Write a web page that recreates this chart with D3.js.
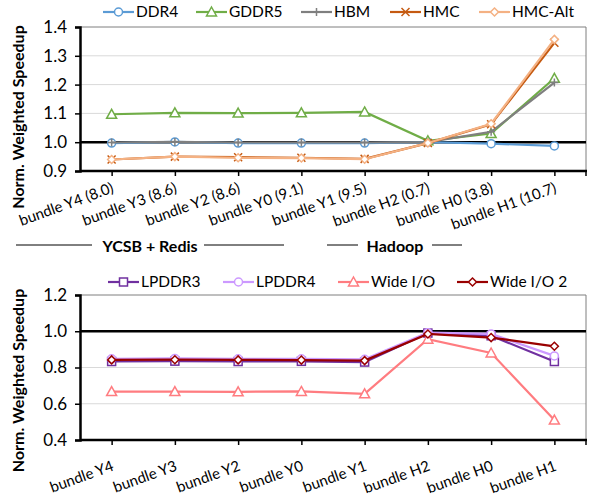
<!DOCTYPE html>
<html>
<head>
<meta charset="utf-8">
<script src="https://cdn.jsdelivr.net/npm/d3@7"></script>
<style>
  html, body { margin: 0; padding: 0; background: #fff; }
  svg { display: block; font-family: "Lato", "Open Sans", sans-serif; }
</style>
</head>
<body>
<svg id="chart" width="590" height="495"></svg>
<script>
// Workload bundles (top chart carries MPKI in parentheses)
const topCategories = ["bundle Y4 (8.0)", "bundle Y3 (8.6)", "bundle Y2 (8.6)", "bundle Y0 (9.1)",
  "bundle Y1 (9.5)", "bundle H2 (0.7)", "bundle H0 (3.8)", "bundle H1 (10.7)"];
const bottomCategories = ["bundle Y4", "bundle Y3", "bundle Y2", "bundle Y0",
  "bundle Y1", "bundle H2", "bundle H0", "bundle H1"];

// Top chart series
const ddr4   = [0.997, 1.001, 0.997, 0.997, 0.997, 1.000, 0.995, 0.987];
const gddr5  = [1.097, 1.102, 1.101, 1.102, 1.105, 1.005, 1.030, 1.222];
const hbm    = [0.999, 1.001, 0.999, 0.999, 0.999, 1.000, 1.036, 1.207];
const hmc    = [0.940, 0.950, 0.948, 0.946, 0.942, 0.997, 1.062, 1.345];
const hmcAlt = [0.940, 0.950, 0.946, 0.945, 0.941, 0.997, 1.064, 1.357];

// Bottom chart series
const lpddr3  = [0.833, 0.835, 0.833, 0.834, 0.830, 0.990, 0.975, 0.833];
const lpddr4  = [0.848, 0.850, 0.848, 0.848, 0.845, 0.992, 0.985, 0.864];
const wideIO  = [0.667, 0.667, 0.666, 0.668, 0.655, 0.956, 0.880, 0.510];
const wideIO2 = [0.842, 0.843, 0.842, 0.841, 0.838, 0.985, 0.965, 0.917];

const topTicks = [0.9, 1.0, 1.1, 1.2, 1.3, 1.4];
const bottomTicks = [0.4, 0.6, 0.8, 1.0, 1.2];

const topSeries = [
  { name: "DDR4",    values: ddr4,   color: "#5B9BD5", marker: "circle" },
  { name: "GDDR5",   values: gddr5,  color: "#70AD47", marker: "triangle" },
  { name: "HBM",     values: hbm,    color: "#7F7F7F", marker: "plus" },
  { name: "HMC",     values: hmc,    color: "#C55A11", marker: "cross" },
  { name: "HMC-Alt", values: hmcAlt, color: "#F4B183", marker: "diamond" }
];
const bottomSeries = [
  { name: "LPDDR3",     values: lpddr3,  color: "#7030A0", marker: "square" },
  { name: "LPDDR4",     values: lpddr4,  color: "#CC99FF", marker: "circle" },
  { name: "Wide I/O",   values: wideIO,  color: "#FF7C80", marker: "triangle" },
  { name: "Wide I/O 2", values: wideIO2, color: "#990000", marker: "diamond" }
];

const svg = d3.select("#chart");

function drawMarker(g, type, x, y, color) {
  const s = 4;
  if (type === "circle") {
    g.append("circle").attr("cx", x).attr("cy", y).attr("r", s)
      .attr("fill", "#fff").attr("stroke", color).attr("stroke-width", 1.5);
  } else if (type === "square") {
    g.append("rect").attr("x", x - s).attr("y", y - s).attr("width", 2 * s).attr("height", 2 * s)
      .attr("fill", "#fff").attr("stroke", color).attr("stroke-width", 1.5);
  } else if (type === "triangle") {
    g.append("path").attr("d", `M${x},${y - s - 1}L${x + s + 1},${y + s}L${x - s - 1},${y + s}Z`)
      .attr("fill", "#fff").attr("stroke", color).attr("stroke-width", 1.5);
  } else if (type === "diamond") {
    g.append("path").attr("d", `M${x},${y - s}L${x + s},${y}L${x},${y + s}L${x - s},${y}Z`)
      .attr("fill", "#fff").attr("stroke", color).attr("stroke-width", 1.5);
  } else if (type === "plus") {
    g.append("path").attr("d", `M${x - s},${y}H${x + s}M${x},${y - s}V${y + s}`)
      .attr("fill", "none").attr("stroke", color).attr("stroke-width", 1.5);
  } else if (type === "cross") {
    g.append("path").attr("d", `M${x - s},${y - s}L${x + s},${y + s}M${x - s},${y + s}L${x + s},${y - s}`)
      .attr("fill", "none").attr("stroke", color).attr("stroke-width", 1.5);
  }
}

function drawPanel(cfg) {
  const { categories, series, ticks, domain, left, right, top, bottom, legend, labelDy } = cfg;
  const x = d3.scalePoint().domain(categories).range([left, right]).padding(0.5);
  const y = d3.scaleLinear().domain(domain).range([bottom, top]);
  const g = svg.append("g");

  // gridlines
  g.append("g").selectAll("line").data(ticks.filter(t => t !== 1.0 && t !== domain[0] && t !== domain[1]))
    .join("line")
    .attr("x1", left).attr("x2", right)
    .attr("y1", d => y(d)).attr("y2", d => y(d))
    .attr("stroke", "#D9D9D9").attr("stroke-width", 1);

  // plot frame (top and right)
  g.append("path").attr("d", `M${left},${top}H${right}V${bottom}`)
    .attr("fill", "none").attr("stroke", "#7F7F7F").attr("stroke-width", 1);

  // y axis
  const yAxis = d3.axisLeft(y).tickValues(ticks).tickFormat(d3.format(".1f")).tickSize(5).tickPadding(8);
  const ya = g.append("g").attr("transform", `translate(${left},0)`).call(yAxis);
  ya.select(".domain").attr("stroke", "#000").attr("stroke-width", 2.5);
  ya.selectAll(".tick line").attr("stroke", "#000").attr("stroke-width", 1.5);
  ya.selectAll(".tick text").attr("font-size", 17).attr("fill", "#000")
    .attr("font-family", "Lato, 'Open Sans', sans-serif");

  // reference line at 1.0
  g.append("line").attr("x1", left).attr("x2", right)
    .attr("y1", y(1.0)).attr("y2", y(1.0))
    .attr("stroke", "#000").attr("stroke-width", 2.5);

  // x axis
  const xAxis = d3.axisBottom(x).tickSize(5).tickSizeOuter(0).tickFormat("");
  const xa = g.append("g").attr("transform", `translate(0,${bottom})`).call(xAxis);
  xa.select(".domain").attr("stroke", "#000").attr("stroke-width", 2.5)
    .attr("d", `M${left},0H${right + 1}`);
  xa.selectAll(".tick line").attr("stroke", "#000").attr("stroke-width", 1.5);
  xa.append("line").attr("x1", right).attr("x2", right).attr("y1", 0).attr("y2", 5)
    .attr("stroke", "#000").attr("stroke-width", 1.5);

  // rotated category labels
  g.append("g").selectAll("text").data(categories).join("text")
    .attr("transform", d => `translate(${x(d) + 3},${bottom + labelDy}) rotate(-20)`)
    .attr("text-anchor", "end")
    .attr("font-size", 15)
    .attr("fill", "#000")
    .text(d => d);

  // y axis title
  g.append("text")
    .attr("transform", `translate(24,${(top + bottom) / 2 + cfg.titleShift}) rotate(-90)`)
    .attr("text-anchor", "middle")
    .attr("font-size", 16).attr("font-weight", "bold")
    .text("Norm. Weighted Speedup");

  // series lines and markers
  const line = d3.line().x((d, i) => x(categories[i])).y(d => y(d));
  series.forEach(s => {
    const sg = g.append("g");
    sg.append("path").attr("d", line(s.values))
      .attr("fill", "none").attr("stroke", s.color).attr("stroke-width", 2.2);
    s.values.forEach((v, i) => drawMarker(sg, s.marker, x(categories[i]), y(v), s.color));
  });

  // legend
  const lg = g.append("g");
  series.forEach((s, i) => {
    const lx = legend.xs[i], ly = legend.y;
    lg.append("line").attr("x1", lx).attr("x2", lx + 31).attr("y1", ly).attr("y2", ly)
      .attr("stroke", s.color).attr("stroke-width", 2.2);
    drawMarker(lg, s.marker, lx + 15.5, ly, s.color);
    lg.append("text").attr("x", lx + 33).attr("y", ly).attr("dy", "0.35em")
      .attr("font-size", 15.5).attr("fill", "#000").text(s.name);
  });
}

drawPanel({
  categories: topCategories, series: topSeries, ticks: topTicks, domain: [0.9, 1.4],
  left: 80, right: 586, top: 27, bottom: 171, labelDy: 21, titleShift: 18,
  legend: { y: 12, xs: [103, 196, 301, 390, 479] }
});

drawPanel({
  categories: bottomCategories, series: bottomSeries, ticks: bottomTicks, domain: [0.4, 1.2],
  left: 80, right: 586, top: 295, bottom: 440, labelDy: 30, titleShift: 13,
  legend: { y: 282, xs: [108, 223, 338, 457] }
});

// workload group brackets under the top chart
const groups = [
  { label: "YCSB + Redis", cx: 150, lines: [[16, 92], [204, 284]] },
  { label: "Hadoop", cx: 395, lines: [[327, 358], [432, 462]] }
];
const gg = svg.append("g");
groups.forEach(gr => {
  gg.append("text").attr("x", gr.cx).attr("y", 246).attr("dy", "0.35em")
    .attr("text-anchor", "middle").attr("font-size", 16).attr("font-weight", "bold")
    .text(gr.label);
  gr.lines.forEach(([a, b]) => {
    gg.append("line").attr("x1", a).attr("x2", b).attr("y1", 245).attr("y2", 245)
      .attr("stroke", "#000").attr("stroke-width", 1);
  });
});
</script>
</body>
</html>
